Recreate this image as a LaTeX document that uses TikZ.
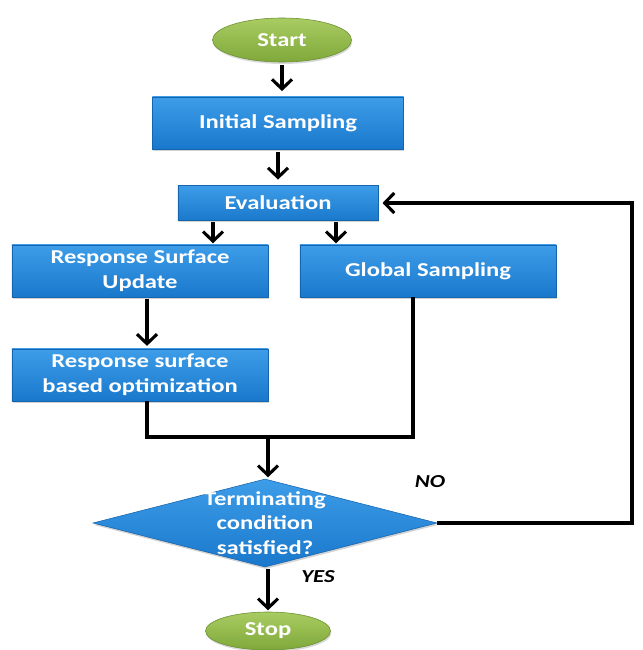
\documentclass[tikz,border=0pt]{standalone}
\usepackage{fontspec}
\setmainfont{Carlito}[FakeStretch=1.25]
\usetikzlibrary{shapes.geometric,arrows.meta,shadows}
\definecolor{boxblue}{HTML}{1A78CC}
\definecolor{boxtop}{HTML}{3D9DE8}
\definecolor{boxedge}{HTML}{1565AE}
\definecolor{termgreen}{HTML}{7FA83A}
\definecolor{termtop}{HTML}{A9CC62}
\definecolor{termedge}{HTML}{6A8F2E}

\begin{document}
\begin{tikzpicture}[x=0.025cm,y=-0.025cm,
  every node/.style={align=center,text=white,font=\fontsize{14}{17.5}\selectfont\bfseries},
  procbox/.style={rectangle,draw=boxedge,line width=0.4pt,top color=boxtop,bottom color=boxblue,
    minimum width=6.4cm,minimum height=1.3cm,inner sep=1pt,
    drop shadow={opacity=0.35,shadow xshift=0.6pt,shadow yshift=-1.4pt}},
  termnode/.style={ellipse,draw=termedge,line width=0.4pt,top color=termtop,bottom color=termgreen,
    inner sep=0pt,drop shadow={opacity=0.3,shadow xshift=0.6pt,shadow yshift=-1.4pt}},
  decide/.style={diamond,draw=boxedge,line width=0.4pt,top color=boxtop,bottom color=boxblue,
    minimum width=8.6cm,minimum height=2.2cm,inner sep=0pt,
    drop shadow={opacity=0.35,shadow xshift=0.6pt,shadow yshift=-1.4pt}},
  flow/.style={line width=2.2pt,black},
  arr/.style={flow,-{Straight Barb[length=2.4mm,width=5mm,line width=2.2pt]}},
  tag/.style={text=black,font=\fontsize{13}{15}\selectfont\bfseries\itshape}]

\useasboundingbox (0,0) rectangle (643,650);

\node [termnode,minimum width=3.475cm,minimum height=1.1cm] (start) at (282,40) {Start};
\node [procbox,minimum width=6.28cm] (init) at (278,123) {Initial Sampling};
\node [procbox,minimum width=5cm,minimum height=0.875cm] (eval) at (278,203) {Evaluation};
\node [procbox] (rsu) at (140,271) {Response Surface\\Update};
\node [procbox] (glob) at (428,271) {Global Sampling};
\node [procbox] (rsbo) at (140,375) {Response surface\\based optimization};
\node [decide] (cond) at (265,523) {};
\node (condtxt) at (cond) {Terminating\\condition\\satisfied?};
\node [termnode,minimum width=3.125cm,minimum height=0.95cm] (stop) at (268,631) {Stop};
% <- end boxes

\coordinate (join) at (268,437);
\coordinate (rt) at (632,0);

\draw [arr,shorten <=2pt,shorten >=4pt] (start) -- (start |- init.north);
\draw [arr,shorten <=2pt,shorten >=4pt] (init) -- (init |- eval.north);
\draw [arr,shorten <=1pt,shorten >=1pt] ([xshift=-1.625cm]eval.south) -- ([xshift=-1.625cm]eval.south |- rsu.north);
\draw [arr,shorten <=1pt,shorten >=1pt] ([xshift=1.45cm]eval.south) -- ([xshift=1.45cm]eval.south |- glob.north);
\draw [arr,shorten <=1pt,shorten >=2pt] ([xshift=0.175cm]rsu.south) -- ([xshift=0.175cm]rsu.south |- rsbo.north);
% <- end top part

\draw [flow] ([xshift=0.175cm]rsbo.south) |- (join);
\draw [flow] ([xshift=-0.375cm]glob.south) |- (join);
\draw [arr,shorten >=1pt] (join) -- (join |- cond.north);
\draw [arr,shorten >=3pt] (cond.east) -- (cond.east -| rt) -- (rt |- eval.east) -- (eval.east);
\draw [arr,shorten <=1pt,shorten >=1pt] (cond.south -| join) -- (join |- stop.north);
% end connectors

\node [tag] (no) at (430,482) {NO};
\node [tag] (yes) at (318,577) {YES};
\end{tikzpicture}
\end{document}
